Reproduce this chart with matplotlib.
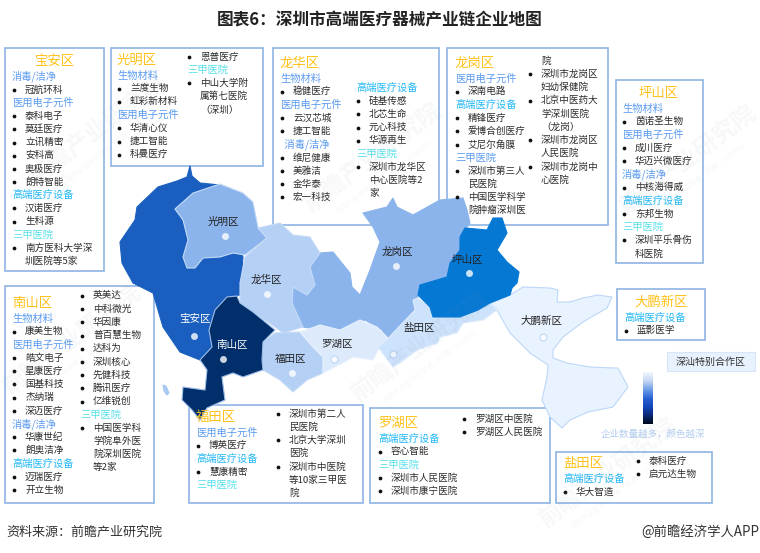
import numpy as np
import matplotlib
matplotlib.use('Agg')
import matplotlib.pyplot as plt
from matplotlib.colors import LinearSegmentedColormap
from matplotlib.patches import Polygon, Rectangle

plt.rcParams['font.family'] = ['Noto Sans CJK SC', 'DejaVu Sans']

title = '图表6：深圳市高端医疗器械产业链企业地图'
source = '资料来源：前瞻产业研究院'
credit = '@前瞻经济学人APP'
legend_note = '企业数量越多，颜色越深'
special_zone = '深汕特别合作区'
watermark = '前瞻产业研究院'
watermark_sub = '中国产业咨询领导者（股票：839599）'

# district outlines in pixels
baoan_xy = [(190,166),(192,176),(200,183),(220,185),(225,215),(243,257),(240,295),(226,297),(215,310),(209,330),(212,347),(200,360),(180,352),(163,327),(153,293),(133,283),(122,263),(120,242),(135,220),(137,207),(158,187),(177,181),(187,177)]
guangming_xy = [(175,209),(193,193),(220,184),(243,193),(253,202),(258,227),(267,238),(245,255),(233,253),(220,257),(203,258),(195,268),(187,268),(183,257),(188,240),(183,220)]
longhua_xy = [(258,228),(280,223),(293,235),(310,237),(320,253),(310,267),(315,285),(307,295),(293,287),(292,303),(303,327),(283,333),(275,327),(253,312),(240,303),(240,283),(245,257),(267,238)]
longgang_xy = [(363,213),(387,207),(393,198),(397,207),(413,215),(440,200),(463,198),(467,210),(470,223),(460,237),(460,250),(450,263),(447,277),(420,285),(418,297),(413,300),(415,310),(393,333),(387,340),(382,330),(365,320),(340,330),(320,330),(303,327),(292,303),(293,287),(307,295),(315,285),(310,267),(320,253),(333,252),(350,273),(352,287),(360,295),(370,270),(380,242),(373,227)]
pingshan_xy = [(493,218),(502,218),(507,233),(497,250),(507,262),(519,272),(517,283),(512,288),(510,295),(490,303),(478,310),(460,317),(433,317),(430,307),(418,295),(420,285),(447,277),(450,263),(460,250),(460,237),(465,228),(487,230)]
yantian_xy = [(413,300),(418,298),(430,307),(433,317),(460,317),(478,310),(490,303),(497,310),(483,320),(463,323),(457,333),(440,337),(438,343),(417,350),(400,363),(393,367),(378,347),(387,340),(393,333),(415,310)]
luohu_xy = [(300,332),(320,325),(340,330),(360,320),(377,327),(390,340),(378,350),(373,360),(353,357),(343,363),(323,373),(323,357),(313,347)]
futian_xy = [(275,333),(300,332),(313,347),(323,357),(323,373),(307,380),(293,392),(280,380),(263,370),(262,360),(263,342)]
nanshan_xy = [(227,297),(237,296),(240,303),(253,312),(275,330),(263,342),(262,360),(263,370),(243,377),(233,373),(222,377),(225,400),(207,408),(200,420),(192,410),(182,400),(183,387),(205,390),(207,370),(200,360),(212,347),(209,330),(215,310)]
dapeng_xy = [(490,303),(510,295),(523,287),(550,288),(558,290),(557,302),(570,302),(583,298),(598,295),(612,297),(607,308),(583,322),(563,337),(553,350),(553,358),(567,363),(590,367),(613,368),(618,368),(628,387),(613,407),(588,412),(570,420),(562,428),(550,417),(542,400),(547,377),(548,365),(530,353),(510,333),(497,310)]
island_xy = [(163,385),(166,386),(169,393),(167,395),(164,391)]

district_shapes = [dapeng_xy, baoan_xy, guangming_xy, longgang_xy, longhua_xy, futian_xy, luohu_xy, yantian_xy, pingshan_xy, nanshan_xy, island_xy]
district_colors = ['#e9f3ff', '#1a5fbf', '#8ab4eb', '#8ab4eb', '#b4d0f5', '#b4d0f5', '#dceafc', '#cde2fb', '#0578d4', '#002f6c', '#a9c9f2']
district_edges = ['#bcd7f7', '#1a5fbf', '#c6dbf6', '#8ab4eb', '#c6dbf6', '#c6dbf6', '#e8f1fd', '#dcebfd', '#0578d4', '#9fbde6', '#a9c9f2']

map_names = ['光明区', '宝安区', '龙华区', '南山区', '福田区', '罗湖区', '龙岗区', '坪山区', '盐田区', '大鹏新区']
map_name_xy = [(223,222), (195,319), (266,280), (232,345), (291,359), (337,344), (397,252), (467,260), (419,328), (542,321)]
map_dot_xy = [(225,236), (194,336), (267,294), (223,359), (292,373), (334,359), (396,266), (469,273), (393,354), (543,337)]
map_name_colors = ['#222222', 'white', '#222222', 'white', '#222222', '#222222', '#222222', '#222222', '#222222', '#222222']
map_dot_edges = ['none', 'none', 'none', 'none', 'none', '#b4d0f5', 'none', 'none', '#a9c9f2', '#b4d0f5']

# box contents: h district name, b blue, s sky, t teal, i bullet item, w wrapped line
baoan_a = [('h','宝安区'),('b','消毒/洁净'),('i','冠航环科'),('b','医用电子元件'),('i','泰科电子'),('i','莫廷医疗'),('i','立讯精密'),('i','安科高'),('i','奥极医疗'),('i','朗特智能'),('s','高端医疗设备'),('i','汉诺医疗'),('i','生科源'),('t','三甲医院'),('i','南方医科大学深'),('w','圳医院等5家')]
guangming_a = [('h','光明区'),('b','生物材料'),('i','兰度生物'),('i','虹彩新材料'),('b','医用电子元件'),('i','华清心仪'),('i','捷工智能'),('i','科曼医疗')]
guangming_b = [('i','恩普医疗'),('t','三甲医院'),('i','中山大学附'),('w','属第七医院'),('w','（深圳）')]
longhua_a = [('h','龙华区'),('b','生物材料'),('i','稳健医疗'),('b','医用电子元件'),('i','云汉芯城'),('i','捷工智能'),('b','  消毒/洁净'),('i','维尼健康'),('i','美雅洁'),('i','金华泰'),('i','宏一科技')]
longhua_b = [('s','高端医疗设备'),('i','硅基传感'),('i','北芯生命'),('i','元心科技'),('i','华源再生'),('t','三甲医院'),('i','深圳市龙华区'),('w','中心医院等2'),('w','家')]
longgang_a = [('h','龙岗区'),('b','医用电子元件'),('i','深南电路'),('s','高端医疗设备'),('i','精锋医疗'),('i','爱博合创医疗'),('i','艾尼尔角膜'),('b','三甲医院'),('i','深圳市第三人'),('w','民医院'),('i','中国医学科学'),('w','院肿瘤深圳医')]
longgang_b = [('w','院'),('i','深圳市龙岗区'),('w','妇幼保健院'),('i','北京中医药大'),('w','学深圳医院'),('w','（龙岗）'),('i','深圳市龙岗区'),('w','人民医院'),('i','深圳市龙岗中'),('w','心医院')]
pingshan_a = [('h','坪山区'),('b','生物材料'),('i','茵诺圣生物'),('b','医用电子元件'),('i','成川医疗'),('i','华迈兴微医疗'),('b','消毒/洁净'),('i','中核海得威'),('s','高端医疗设备'),('i','东邦生物'),('t','三甲医院'),('i','深圳平乐骨伤'),('w','科医院')]
nanshan_a = [('h','南山区'),('b','生物材料'),('i','康美生物'),('b','医用电子元件'),('i','皓文电子'),('i','星康医疗'),('i','国基科技'),('i','杰纳瑞'),('i','深迈医疗'),('b','消毒/洁净'),('i','华康世纪'),('i','朗奥洁净'),('s','高端医疗设备'),('i','迈瑞医疗'),('i','开立生物')]
nanshan_b = [('i','英美达'),('i','中科微光'),('i','华因康'),('i','普百慧生物'),('i','达科为'),('i','深圳核心'),('i','先健科技'),('i','腾讯医疗'),('i','亿维锐创'),('t','三甲医院'),('i','中国医学科'),('w','学院阜外医'),('w','院深圳医院'),('w','等2家')]
futian_a = [('h','福田区'),('b','医用电子元件'),('i','博英医疗'),('s','高端医疗设备'),('i','慧康精密'),('t','三甲医院')]
futian_b = [('i','深圳市第二人'),('w','民医院'),('i','北京大学深圳'),('w','医院'),('i','深圳市中医院'),('w','等10家三甲医'),('w','院')]
luohu_a = [('h','罗湖区'),('s','高端医疗设备'),('i','容心智能'),('t','三甲医院'),('i','深圳市人民医院'),('i','深圳市康宁医院')]
luohu_b = [('i','罗湖区中医院'),('i','罗湖区人民医院')]
dapeng_a = [('h','大鹏新区'),('s','高端医疗设备'),('i','蓝影医学')]
yantian_a = [('h','盐田区'),('s','高端医疗设备'),('i','华大智造')]
yantian_b = [('i','泰科医疗'),('i','启元达生物')]

# box rectangles x0, y0, x1, y1
box_rects = [(5,48,104,271), (111,48,263,166), (273,48,439,225), (447,48,608,225), (616,80,703,263), (5,286,154,503), (189,405,363,503), (370,408,550,503), (617,289,705,340), (556,452,712,503)]

# column content with left edge and first line y
columns = [
    (baoan_a, 12, 61), (guangming_a, 117, 60), (guangming_b, 187, 57),
    (longhua_a, 280, 63), (longhua_b, 356, 88), (longgang_a, 455, 63),
    (longgang_b, 528, 61), (pingshan_a, 622, 93), (nanshan_a, 12, 303),
    (nanshan_b, 80, 296), (futian_a, 196, 417), (futian_b, 276, 414),
    (luohu_a, 378, 423), (luohu_b, 462, 419), (dapeng_a, 624, 302),
    (yantian_a, 563, 463), (yantian_b, 636, 461),
]
centered_heads = {'宝安区': 54, '坪山区': 659, '大鹏新区': 661}

kind_colors = {'b': '#5b9bf0', 's': '#22b8f6', 't': '#58e0ea'}
item_color = '#2b2b2b'
line_step = 13.2
head_step = 15.5

watermark_xy = [(98,130), (373,158), (688,160), (72,340), (420,347), (608,473)]

bar_colors = ['#f2f6fc', '#c5d8f3', '#6f9fe6', '#2a63d6', '#1247b8', '#0a2a78', '#020818']


def draw_column(ax, rows, x, y):
    for kind, label in rows:
        if kind == 'h':
            if label in centered_heads:
                ax.text(centered_heads[label], y, label, color='#ffc21a', fontsize=9.6, ha='center', va='center', zorder=5)
            else:
                ax.text(x, y, label, color='#ffc21a', fontsize=9.6, ha='left', va='center', zorder=5)
            y += head_step
        elif kind in kind_colors:
            ax.text(x, y, label, color=kind_colors[kind], fontsize=7.4, ha='left', va='center', zorder=5)
            y += line_step
        else:
            if kind == 'i':
                ax.plot([x + 1.5], [y], 'o', color='#111111', ms=1.7, zorder=5)
            ax.text(x + 13, y, label, color=item_color, fontsize=6.9, ha='left', va='center', zorder=5)
            y += line_step


def shenzhen_map():

    fig = plt.figure(figsize=(7.6, 5.53), dpi=100)
    ax = fig.add_axes([0, 0, 1, 1])
    ax.set_xlim(0, 760)
    ax.set_ylim(553, 0)
    ax.axis('off')

    ax.text(380, 20, title, fontsize=12, fontweight='bold', color='#222222', ha='center', va='center')

    for x0, y0, x1, y1 in box_rects:
        ax.add_patch(Rectangle((x0, y0), x1 - x0, y1 - y0, fc='white', ec='#8fb4e3', lw=1.2, zorder=1))

    for shape, fc, ec in zip(district_shapes, district_colors, district_edges):
        ax.add_patch(Polygon(shape, closed=True, fc=fc, ec=ec, lw=0.8, joinstyle='round', zorder=2))

    for name, (x, y), (dx, dy), c, dot_edge in zip(map_names, map_name_xy, map_dot_xy, map_name_colors, map_dot_edges):
        ax.text(x, y, name, color=c, fontsize=7.6, ha='center', va='center', zorder=6)
        ax.plot([dx], [dy], 'o', mfc='white', mec=dot_edge, alpha=0.8, ms=5, mew=0.8, zorder=6)

    for rows, x, y in columns:
        draw_column(ax, rows, x, y)

    # legend bar and tag
    ax.add_patch(Rectangle((667, 352), 88, 19, fc='#e8f2fe', ec='#d6e5fa', lw=0.8, zorder=1))
    ax.text(711, 361.5, special_zone, color='#333333', fontsize=7.2, ha='center', va='center', zorder=5)
    cmap = LinearSegmentedColormap.from_list('bar', bar_colors)
    ramp = np.linspace(0, 1, 128).reshape(-1, 1)
    ax.imshow(ramp, cmap=cmap, extent=(643, 653, 424, 372), aspect='auto', zorder=3)
    ax.set_xlim(0, 760)
    ax.set_ylim(553, 0)
    ax.text(653, 434, legend_note, color='#b4cdf0', fontsize=6.8, ha='center', va='center', zorder=5)

    # footer
    ax.text(6, 532, source, color='#333333', fontsize=9.4, ha='left', va='center')
    ax.text(759, 532, credit, color='#333333', fontsize=9.6, ha='right', va='center')

    # watermarks
    for x, y in watermark_xy:
        ax.text(x, y, watermark, color='#8a96a6', alpha=0.07, fontsize=17, fontweight='bold', rotation=37, rotation_mode='anchor', ha='center', va='center', zorder=7)
        ax.text(x + 12, y + 18, watermark_sub, color='#8a96a6', alpha=0.07, fontsize=5, rotation=37, rotation_mode='anchor', ha='center', va='center', zorder=7)

    fig.savefig('out.png', dpi=100)


if __name__ == "__main__":

    shenzhen_map()
